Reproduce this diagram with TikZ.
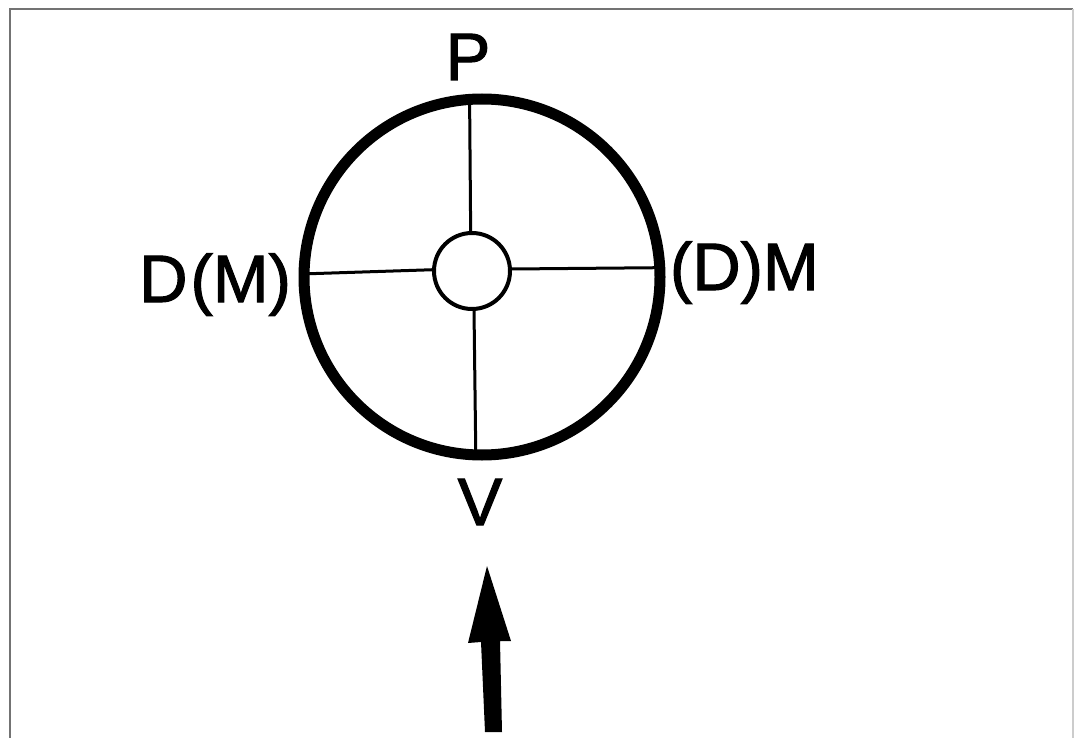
\documentclass[tikz,border=0pt]{standalone}
\usepackage{fontspec}
\setmainfont{Liberation Sans}
\newfontfamily\lblfont[FakeBold=1.6]{Liberation Sans}
\begin{document}
\begin{tikzpicture}[x=1pt,y=-1pt,
  lbl/.style={font=\lblfont\fontsize{67}{72}\selectfont, inner sep=0pt, outer sep=0pt},
  thinline/.style={line width=3pt},
  ringstyle/.style={circle, draw, line width=11pt, inner sep=0pt, outer sep=0pt, minimum size=356pt},
  hubstyle/.style={circle, draw, line width=4pt, inner sep=0pt, outer sep=0pt, minimum size=76pt},
  framestyle/.style={line width=2pt, draw=black!55}]
\useasboundingbox (0,0) rectangle (1076,738);
\fill[white] (0,0) rectangle (1076,738);
% frame
\draw[framestyle] (10,738) -- (10,9) -- (1073,9);
\draw[line width=1.5pt, draw=black!20] (1073,9) -- (1073,738);
% circles
\node[ringstyle] (ring) at (482,277) {};
\node[hubstyle] (hub) at (472,271) {};
% spokes
\draw[thinline] (ring.94.5) -- (hub.92);
\draw[thinline] (ring.268.7) -- (hub.273);
\draw[thinline] (ring.179.4) -- (hub.178.5);
\draw[thinline] (ring.3.9) -- (hub.3);
% labels
\node[lbl, anchor=base] (P) at (468,80) {P};
\node[lbl, anchor=base] (V) at (480,525) {V};
\node[lbl, anchor=base east] (DM) at (291,302) {D\kern3pt(M)};
\node[lbl, anchor=base west] (MD) at (670,290) {(D)M};
% arrow
\coordinate (tip) at (487,566);
\fill[black] (tip) -- (511,641) -- (500,641) -- (502,732) -- (485,732) -- (481,642) -- (468,643) -- cycle;
\end{tikzpicture}
\end{document}
